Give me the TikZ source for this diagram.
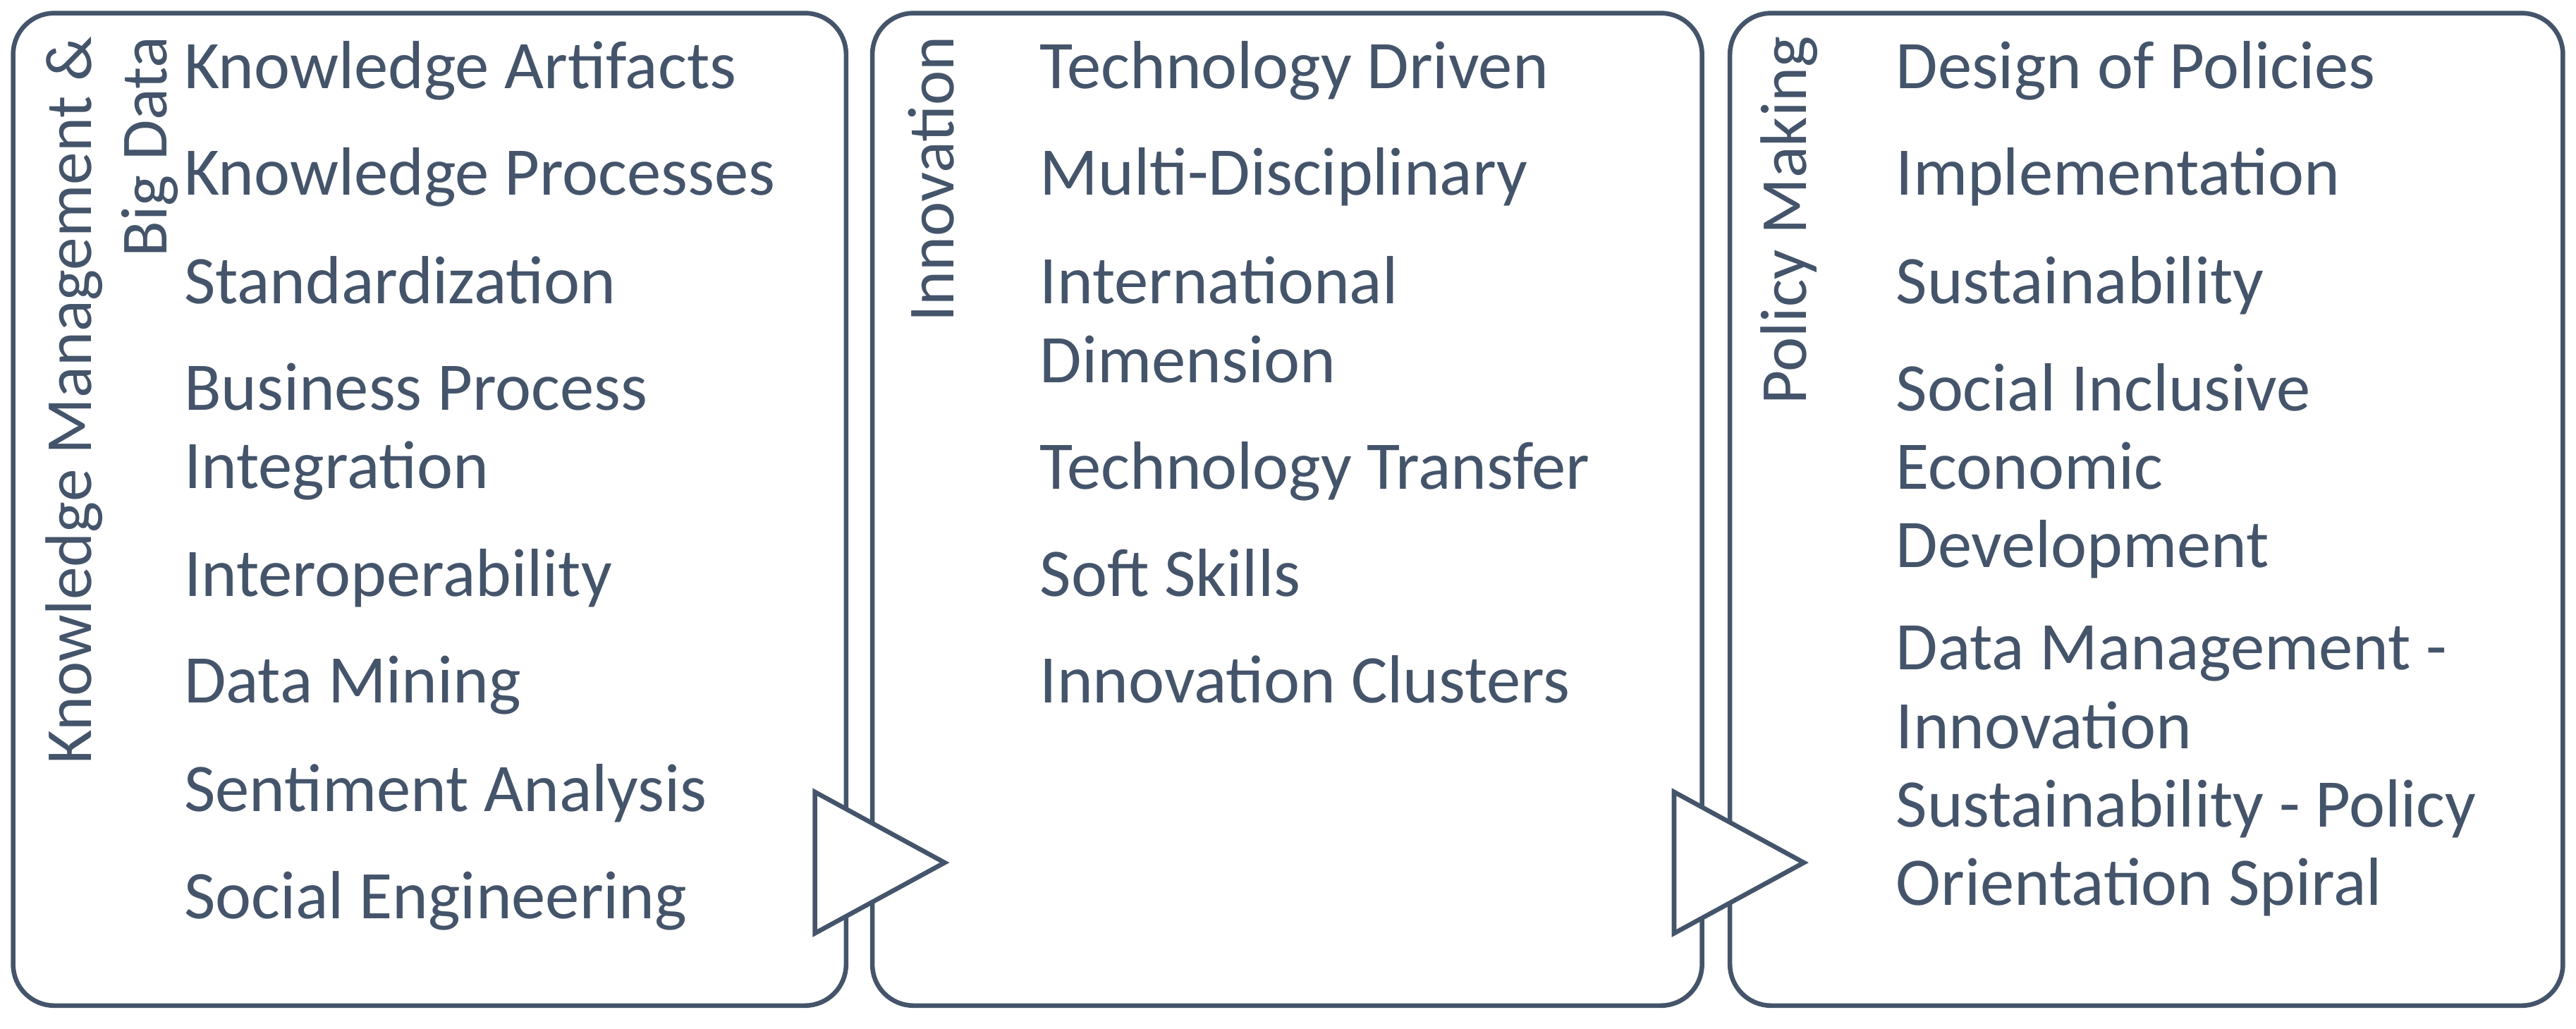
\documentclass[tikz,border=0pt]{standalone}
\usepackage{fontspec}
\setmainfont{Carlito}
\begin{document}
\definecolor{ink}{HTML}{44546A}
\begin{tikzpicture}[x=0.1cm,y=-0.1cm,
  box/.style={draw=ink,line width=8pt,rounded corners=2.5cm},
  tri/.style={draw=ink,line width=8pt,fill=white,line join=miter},
  it/.style={anchor=north west,inner sep=0,text=ink,align=left,font=\fontsize{118}{136}\selectfont},
  vt/.style={anchor=east,rotate=90,inner sep=0,text=ink,font=\fontsize{114}{136}\selectfont}]
\useasboundingbox (0,0) rectangle (1568,626);
\fill[white] (0,0) rectangle (1568,626);
\draw[box] (8,8) rectangle (515,612);
\draw[box] (531,8) rectangle (1036,612);
\draw[box] (1053,8) rectangle (1560,612);
\node[vt] (v1) at (45,22) {Knowledge Management \&};
\node[vt] (v2) at (91,22) {Big Data};
\node[vt] (v3) at (567,22) {Innovation};
\node[vt] (v4) at (1089,22) {Policy Making};
\foreach \t/\y [count=\i] in {Knowledge Artifacts/42,Knowledge Processes/107,Standardization/173,{Business Process\\Integration}/238,Interoperability/351,Data Mining/416,Sentiment Analysis/482,Social Engineering/547}
  \node[it] (a\i) at (112,\y-17) {\t};
\foreach \t/\y [count=\i] in {Technology Driven/42,Multi-Disciplinary/107,{International\\Dimension}/173,Technology Transfer/286,Soft Skills/351,Innovation Clusters/416}
  \node[it] (b\i) at (633,\y-17) {\t};
\foreach \t/\y [count=\i] in {Design of Policies/42,Implementation/107,Sustainability/173,{Social Inclusive\\Economic\\Development}/238,{Data Management -\\Innovation\\Sustainability - Policy\\Orientation Spiral}/398}
  \node[it] (c\i) at (1154,\y-17) {\t};
\draw[tri] (496,482) -- (496,568) -- (575,525) -- cycle;
\draw[tri] (1019,482) -- (1019,568) -- (1098,525) -- cycle;
\end{tikzpicture}
\end{document}
